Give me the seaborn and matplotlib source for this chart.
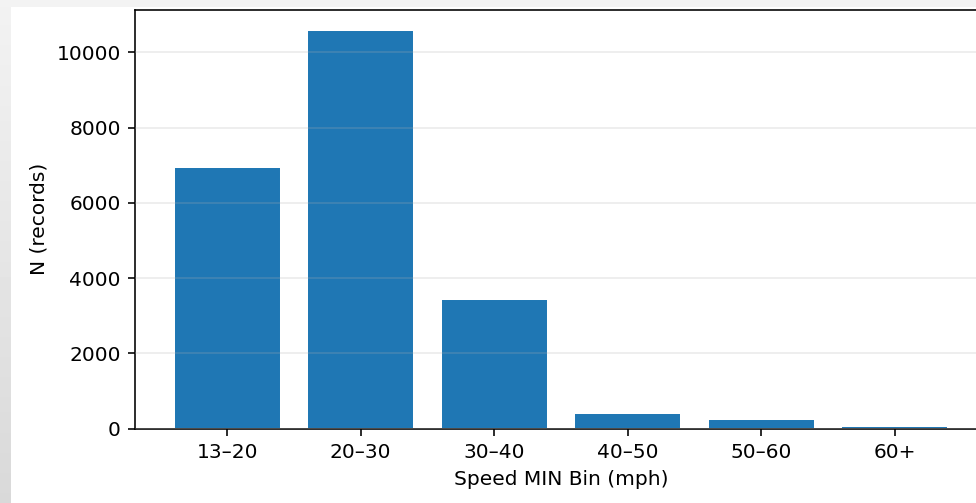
import numpy as np
import pandas as pd
import matplotlib
matplotlib.use("Agg")
import matplotlib.pyplot as plt
import seaborn as sns

# speed bins and record counts
speed_bins = ['13–20', '20–30', '30–40', '40–50', '50–60', '60+']
n_records = [6950, 10600, 3450, 410, 240, 65]

df = pd.DataFrame({'bin': speed_bins, 'n': n_records})

sns.set_style('white')
plt.rcParams['font.family'] = ['DejaVu Sans']

fig = plt.figure(figsize=(976 / 145, 503 / 145), dpi=145)

# screenshot shadow on the left and top edge
shade = fig.add_axes([0, 0, 11 / 976, 1])
shade.imshow(np.linspace(0.95, 0.85, 100).reshape(-1, 1), cmap='gray',
             vmin=0, vmax=1, aspect='auto')
shade.axis('off')
top = fig.add_axes([0, 1 - 7 / 503, 1, 7 / 503])
top.imshow(np.full((1, 2), 0.955), cmap='gray', vmin=0, vmax=1, aspect='auto')
top.axis('off')

# axes runs just past the right edge, like the cropped original
ax = fig.add_axes([135 / 976, (503 - 428.5) / 503, (987 - 135) / 976, (428.5 - 10) / 503])
sns.barplot(data=df, x='bin', y='n', color='#1f77b4', saturation=1, width=0.8, ax=ax)
ax.set_xlim(-0.69, 5.69)
ax.set_ylim(0, 11130)
ax.set_yticks([0, 2000, 4000, 6000, 8000, 10000])

for s in ax.spines.values():
    s.set_visible(True)
    s.set_color('black')
    s.set_linewidth(0.8)
ax.tick_params(axis='both', which='major', length=3.5, width=0.8,
               color='black', labelsize=10, labelcolor='black',
               bottom=True, left=True)
ax.yaxis.grid(True, color='#b0b0b0', alpha=0.25, linewidth=0.8)
ax.xaxis.grid(False)
ax.set_axisbelow(False)
for p in ax.patches:
    p.set_zorder(1)

ax.set_xlabel('Speed MIN Bin (mph)', fontsize=10, color='black')
ax.set_ylabel('N (records)', fontsize=10, color='black')

fig.savefig('out.png', dpi=145)
